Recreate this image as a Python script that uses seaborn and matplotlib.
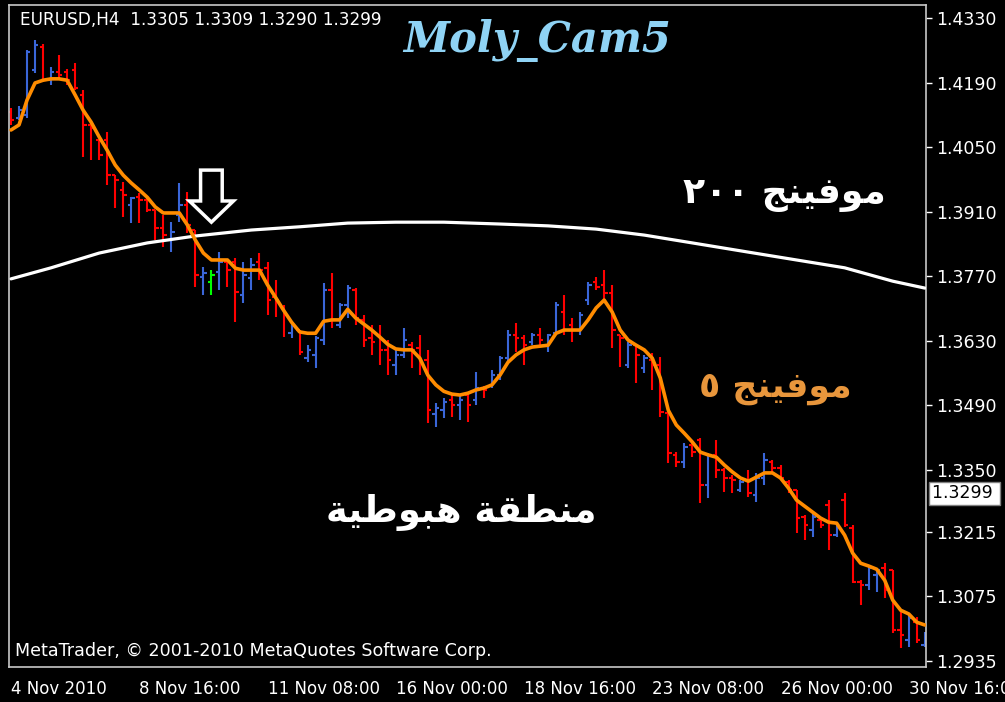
import numpy as np
import pandas as pd
import matplotlib
matplotlib.use("Agg")
import matplotlib.pyplot as plt
import matplotlib.transforms as mtransforms
from matplotlib.patches import FancyArrow
import seaborn as sns

bar_open = [1.4126, 1.4113, 1.4119, 1.4217, 1.4267, 1.4195, 1.4213, 1.4213, 1.4217, 1.4163,
            1.4098, 1.4065, 1.4065, 1.3989, 1.3957, 1.3924, 1.3941, 1.3935, 1.3913, 1.3874,
            1.3848, 1.3902, 1.3924, 1.3870, 1.3768, 1.3757, 1.3779, 1.3800, 1.3800, 1.3729,
            1.3766, 1.3800, 1.3787, 1.3724, 1.3703, 1.3646, 1.3653, 1.3592, 1.3599, 1.3631,
            1.3740, 1.3664, 1.3707, 1.3740, 1.3675, 1.3635, 1.3642, 1.3610, 1.3577, 1.3599,
            1.3620, 1.3614, 1.3588, 1.3471, 1.3479, 1.3501, 1.3490, 1.3512, 1.3501, 1.3527,
            1.3534, 1.3555, 1.3592, 1.3642, 1.3635, 1.3627, 1.3642, 1.3620, 1.3646, 1.3692,
            1.3664, 1.3653, 1.3718, 1.3757, 1.3751, 1.3733, 1.3642, 1.3577, 1.3620, 1.3570,
            1.3588, 1.3577, 1.3473, 1.3382, 1.3366, 1.3403, 1.3414, 1.3317, 1.3382, 1.3349,
            1.3332, 1.3306, 1.3327, 1.3295, 1.3332, 1.3366, 1.3353, 1.3323, 1.3306, 1.3247,
            1.3219, 1.3241, 1.3273, 1.3208, 1.3284, 1.3223, 1.3106, 1.3100, 1.3121, 1.3136,
            1.3132, 1.3002, 1.2980, 1.3019, 1.2969]
bar_high = [1.4135, 1.4139, 1.4260, 1.4282, 1.4274, 1.4224, 1.4250, 1.4219, 1.4232, 1.4174,
            1.4109, 1.4065, 1.4083, 1.3989, 1.3974, 1.3941, 1.3950, 1.3941, 1.3913, 1.3902,
            1.3887, 1.3972, 1.3952, 1.3870, 1.3790, 1.3783, 1.3822, 1.3805, 1.3809, 1.3800,
            1.3809, 1.3820, 1.3800, 1.3761, 1.3707, 1.3668, 1.3653, 1.3620, 1.3640, 1.3755,
            1.3777, 1.3711, 1.3751, 1.3744, 1.3685, 1.3664, 1.3664, 1.3631, 1.3614, 1.3657,
            1.3627, 1.3642, 1.3610, 1.3494, 1.3505, 1.3512, 1.3512, 1.3518, 1.3562, 1.3531,
            1.3566, 1.3596, 1.3653, 1.3668, 1.3642, 1.3646, 1.3657, 1.3644, 1.3714, 1.3729,
            1.3679, 1.3692, 1.3757, 1.3768, 1.3783, 1.3751, 1.3642, 1.3627, 1.3620, 1.3599,
            1.3603, 1.3594, 1.3473, 1.3388, 1.3408, 1.3410, 1.3418, 1.3386, 1.3414, 1.3353,
            1.3338, 1.3327, 1.3349, 1.3343, 1.3386, 1.3371, 1.3360, 1.3327, 1.3306, 1.3251,
            1.3256, 1.3245, 1.3284, 1.3230, 1.3299, 1.3230, 1.3110, 1.3139, 1.3136, 1.3147,
            1.3132, 1.3045, 1.3039, 1.3030, 1.2998]
bar_low = [1.4098, 1.4109, 1.4113, 1.4211, 1.4191, 1.4185, 1.4200, 1.4185, 1.4174, 1.4028,
           1.4022, 1.4022, 1.3968, 1.3918, 1.3898, 1.3885, 1.3885, 1.3909, 1.3848, 1.3833,
           1.3822, 1.3887, 1.3863, 1.3746, 1.3729, 1.3729, 1.3740, 1.3746, 1.3670, 1.3711,
           1.3740, 1.3761, 1.3685, 1.3681, 1.3638, 1.3635, 1.3599, 1.3583, 1.3570, 1.3620,
           1.3657, 1.3657, 1.3679, 1.3664, 1.3616, 1.3599, 1.3577, 1.3555, 1.3555, 1.3592,
           1.3570, 1.3555, 1.3451, 1.3442, 1.3462, 1.3464, 1.3458, 1.3453, 1.3490, 1.3505,
           1.3527, 1.3544, 1.3583, 1.3605, 1.3577, 1.3620, 1.3620, 1.3605, 1.3642, 1.3642,
           1.3627, 1.3642, 1.3707, 1.3740, 1.3714, 1.3614, 1.3573, 1.3570, 1.3538, 1.3560,
           1.3523, 1.3464, 1.3364, 1.3356, 1.3353, 1.3377, 1.3277, 1.3288, 1.3332, 1.3301,
           1.3299, 1.3301, 1.3290, 1.3280, 1.3317, 1.3345, 1.3327, 1.3299, 1.3212, 1.3197,
           1.3204, 1.3223, 1.3175, 1.3204, 1.3225, 1.3104, 1.3056, 1.3089, 1.3084, 1.3071,
           1.2995, 1.2963, 1.2965, 1.2974, 1.2965]
bar_close = [1.4109, 1.4130, 1.4256, 1.4271, 1.4195, 1.4213, 1.4206, 1.4195, 1.4178, 1.4098,
             1.4091, 1.4033, 1.3989, 1.3978, 1.3946, 1.3939, 1.3935, 1.3913, 1.3874, 1.3859,
             1.3866, 1.3924, 1.3881, 1.3772, 1.3777, 1.3772, 1.3800, 1.3783, 1.3735, 1.3772,
             1.3794, 1.3783, 1.3718, 1.3718, 1.3685, 1.3664, 1.3605, 1.3610, 1.3635, 1.3740,
             1.3675, 1.3707, 1.3744, 1.3679, 1.3631, 1.3627, 1.3610, 1.3588, 1.3599, 1.3631,
             1.3610, 1.3583, 1.3479, 1.3484, 1.3497, 1.3490, 1.3501, 1.3490, 1.3527, 1.3523,
             1.3555, 1.3592, 1.3642, 1.3635, 1.3620, 1.3642, 1.3631, 1.3642, 1.3707, 1.3653,
             1.3653, 1.3685, 1.3751, 1.3746, 1.3733, 1.3653, 1.3635, 1.3620, 1.3599, 1.3592,
             1.3577, 1.3475, 1.3386, 1.3366, 1.3399, 1.3388, 1.3317, 1.3382, 1.3349, 1.3332,
             1.3327, 1.3323, 1.3299, 1.3332, 1.3371, 1.3353, 1.3332, 1.3306, 1.3245, 1.3230,
             1.3247, 1.3230, 1.3208, 1.3225, 1.3230, 1.3106, 1.3100, 1.3136, 1.3132, 1.3089,
             1.3002, 1.2991, 1.3028, 1.2980, 1.2991]

# Media movil de 5 periodos (linea naranja), un valor por barra.
ma5 = [1.4087, 1.4098, 1.4152, 1.4189, 1.4195, 1.4198, 1.4198, 1.4195, 1.4163, 1.4130,
       1.4104, 1.4072, 1.4043, 1.4011, 1.3989, 1.3972, 1.3957, 1.3941, 1.3920, 1.3907,
       1.3907, 1.3907, 1.3881, 1.3848, 1.3820, 1.3805, 1.3805, 1.3805, 1.3787, 1.3783,
       1.3783, 1.3783, 1.3751, 1.3724, 1.3696, 1.3670, 1.3649, 1.3646, 1.3646, 1.3672,
       1.3675, 1.3675, 1.3698, 1.3679, 1.3666, 1.3653, 1.3638, 1.3622, 1.3612, 1.3610,
       1.3610, 1.3592, 1.3555, 1.3534, 1.3520, 1.3514, 1.3512, 1.3516, 1.3523, 1.3527,
       1.3534, 1.3555, 1.3583, 1.3599, 1.3610, 1.3616, 1.3618, 1.3620, 1.3646, 1.3653,
       1.3653, 1.3653, 1.3675, 1.3701, 1.3718, 1.3692, 1.3653, 1.3631, 1.3620, 1.3610,
       1.3592, 1.3549, 1.3479, 1.3447, 1.3429, 1.3410, 1.3388, 1.3382, 1.3377, 1.3360,
       1.3345, 1.3332, 1.3325, 1.3334, 1.3343, 1.3343, 1.3332, 1.3310, 1.3284, 1.3271,
       1.3258, 1.3245, 1.3236, 1.3234, 1.3208, 1.3169, 1.3147, 1.3141, 1.3134, 1.3110,
       1.3067, 1.3045, 1.3037, 1.3019, 1.3013]

ma200_idx = [0, 5, 11, 17, 23, 30, 36, 42, 48, 54, 61, 67, 73, 79, 85, 92, 98, 104, 110, 114]
ma200_val = [1.3764, 1.3788, 1.3820, 1.3842, 1.3857, 1.3870, 1.3877, 1.3885, 1.3887, 1.3887,
             1.3883, 1.3879, 1.3872, 1.3859, 1.3842, 1.3822, 1.3805, 1.3788, 1.3759, 1.3744]

signal_bar = 25
price_ticks = [1.4330, 1.4190, 1.4050, 1.3910, 1.3770, 1.3630, 1.3490, 1.3350, 1.3215, 1.3075, 1.2935]
date_idx = [0, 16, 32, 48, 64, 80, 96, 112]
date_labels = ["4 Nov 2010", "8 Nov 16:00", "11 Nov 08:00", "16 Nov 00:00",
               "18 Nov 16:00", "23 Nov 08:00", "26 Nov 00:00", "30 Nov 16:00"]
last_price = 1.3299
header = "EURUSD,H4  1.3305 1.3309 1.3290 1.3299"

# Texto arabe en formas de presentacion, en orden visual.
palabra_moving = "\uFE9E\uFEE8\uFEF4\uFED3\uFEEE\uFEE3"
txt_ma200 = "\u0662\u0660\u0660 " + palabra_moving
txt_ma5 = "\u0665 " + palabra_moving
txt_zona = "\uFE94\uFEF4\uFEC3\uFEEE\uFE92\uFEEB " + "\uFE94\uFED8\uFEC4\uFEE8\uFEE3"

BLUE = "#3a66d8"
RED = "#ff0000"
GREEN = "#00ff00"
ORANGE = "#ff8c00"
FG = "#ffffff"

sns.set_theme(style="dark", rc={
    "figure.facecolor": "black",
    "axes.facecolor": "black",
    "axes.edgecolor": "#c8c8c8",
    "axes.grid": False,
    "xtick.color": FG,
    "ytick.color": FG,
    "text.color": FG,
})
plt.rcParams["font.family"] = ["DejaVu Sans"]

fig = plt.figure(figsize=(10.05, 7.02), dpi=100)
ax = fig.add_axes([9 / 1005, 1 - 667 / 702, 917 / 1005, 662 / 702])

x = np.arange(len(bar_open))
colores = []
for i, (o, c) in enumerate(zip(bar_open, bar_close)):
    if i == signal_bar:
        colores.append(GREEN)
    elif c >= o:
        colores.append(BLUE)
    else:
        colores.append(RED)

ax.vlines(x, bar_low, bar_high, colors=colores, linewidth=1.5, zorder=2)
ax.hlines(bar_open, x - 0.42, x, colors=colores, linewidth=1.5, zorder=2)
ax.hlines(bar_close, x, x + 0.42, colors=colores, linewidth=1.5, zorder=2)

df_ma5 = pd.DataFrame({"bar": x, "ma": ma5})
df_ma200 = pd.DataFrame({"bar": ma200_idx, "ma": ma200_val})
sns.lineplot(data=df_ma200, x="bar", y="ma", color=FG, linewidth=2.3, ax=ax, zorder=3)
sns.lineplot(data=df_ma5, x="bar", y="ma", color=ORANGE, linewidth=2.6, ax=ax, zorder=4)

ax.set_xlim(-0.25, 114.15)
ax.set_ylim(1.29219, 1.43582)

ax.yaxis.tick_right()
ax.set_yticks(price_ticks)
ax.set_yticklabels([f"{p:.4f}" for p in price_ticks])
ax.tick_params(axis="y", length=4, width=1, pad=3, labelsize=12.5, colors=FG)
ax.set_xticks(date_idx)
ax.set_xticklabels(date_labels)
ax.tick_params(axis="x", length=5, width=1, pad=4, labelsize=12, colors=FG)
for lbl in ax.get_xticklabels():
    lbl.set_horizontalalignment("left")
ax.set_xlabel("")
ax.set_ylabel("")
for spine in ax.spines.values():
    spine.set_color("#c8c8c8")
    spine.set_linewidth(1.2)

# Marcador del ultimo precio.
trans = mtransforms.blended_transform_factory(ax.transAxes, ax.transData)
ax.text(1.006, last_price, f"{last_price:.4f} ", transform=trans, ha="left", va="center",
        fontsize=12.5, color="black", clip_on=False,
        bbox=dict(boxstyle="square,pad=0.15", facecolor="white", edgecolor="#808080"))

# Flecha de senal.
arrow = FancyArrow(signal_bar, 1.4000, 0, 1.3887 - 1.4000, width=2.7, head_width=5.5,
                   head_length=0.0046, length_includes_head=True,
                   facecolor="black", edgecolor=FG, linewidth=2.5, zorder=5)
ax.add_patch(arrow)

# Textos.
ax.text(0.012, 0.977, header, transform=ax.transAxes, fontsize=12.2, color=FG, ha="left", va="center")
ax.text(0.0065, 0.024, "MetaTrader, \u00a9 2001-2010 MetaQuotes Software Corp.", transform=ax.transAxes,
        fontsize=12.6, color=FG, ha="left", va="center")
ax.text(65.6, 1.4282, "Moly_Cam5", fontsize=30, color="#8fd3f5", fontweight="bold",
        fontstyle="italic", family="DejaVu Serif", ha="center", va="center")
ax.text(96.5, 1.3946, txt_ma200, fontsize=26, color=FG, fontweight="bold", ha="center", va="center")
ax.text(95.3, 1.3527, txt_ma5, fontsize=25, color="#e8963c", fontweight="bold", ha="center", va="center")
ax.text(56.2, 1.3258, txt_zona, fontsize=26.5, color=FG, fontweight="bold", ha="center", va="center")

fig.savefig("out.png", dpi=100, facecolor="black")
plt.close(fig)
